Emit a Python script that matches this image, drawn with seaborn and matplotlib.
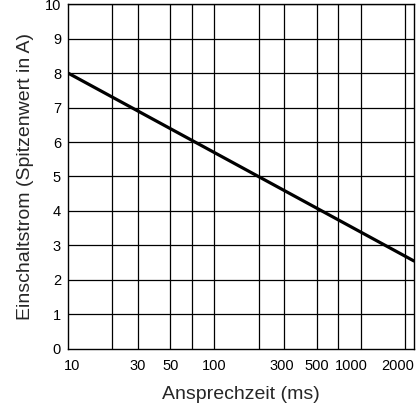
"""
Einschaltstrom vs. Ansprechzeit, log x axis with a plain black grid.
"""

import pandas as pd
import matplotlib
matplotlib.use("Agg")
from matplotlib import pyplot as plt
from matplotlib.ticker import FixedLocator, FixedFormatter, NullLocator
from matplotlib.transforms import ScaledTranslation
import seaborn as sns

# === Data ===

zeit_ms = [10, 2300]
strom_a = [8.0, 2.55]

grid_x = [20, 30, 50, 70, 100, 200, 300, 500, 700, 1000, 2000]
xtick_vals = [10, 30, 50, 100, 300, 500, 1000, 2000]
xtick_labels = ["10", "30", "50", "100", "300", "500", "1000", "2000"]
ytick_vals = list(range(0, 11))

# === Plot ===

sns.set_style("white")
plt.rcParams["font.family"] = ["Liberation Sans", "DejaVu Sans"]

fig = plt.figure(figsize=(4.16, 4.09), dpi=100)
ax = fig.add_axes([0.1635, 0.147, 0.8315, 0.843])

data = pd.DataFrame({"zeit": zeit_ms, "strom": strom_a})

#== grid lines drawn by hand so only the wanted ones show
for gx in grid_x:
    ax.axvline(gx, color="black", lw=0.9, zorder=1)
for gy in ytick_vals[1:]:
    ax.axhline(gy, color="black", lw=0.9, zorder=1)

sns.lineplot(data=data, x="zeit", y="strom", color="black", lw=2.3, ax=ax, zorder=3)

ax.set_xscale("log")
ax.set_xlim(10, 2300)
ax.set_ylim(0, 10)

ax.xaxis.set_major_locator(FixedLocator(xtick_vals))
ax.xaxis.set_major_formatter(FixedFormatter(xtick_labels))
ax.xaxis.set_minor_locator(NullLocator())
ax.set_yticks(ytick_vals)
ax.tick_params(axis="both", length=0, labelsize=10.5, colors="black")
ax.tick_params(axis="x", pad=7)
ax.tick_params(axis="y", pad=5)

#== nudge a few x labels like in the original
shifts = {"10": 3, "1000": -7, "2000": -5, "300": -2}
for lab in ax.get_xticklabels():
    dx = shifts.get(lab.get_text(), 0)
    if dx:
        lab.set_transform(lab.get_transform() + ScaledTranslation(dx / 72, 0, fig.dpi_scale_trans))

ax.set_xlabel("Ansprechzeit (ms)", fontsize=14, labelpad=10)
ax.set_ylabel("Einschaltstrom (Spitzenwert in A)", fontsize=14, labelpad=8)

for s in ax.spines.values():
    s.set_color("black")
    s.set_linewidth(1.0)

fig.savefig("out.png", dpi=100)
plt.close()
